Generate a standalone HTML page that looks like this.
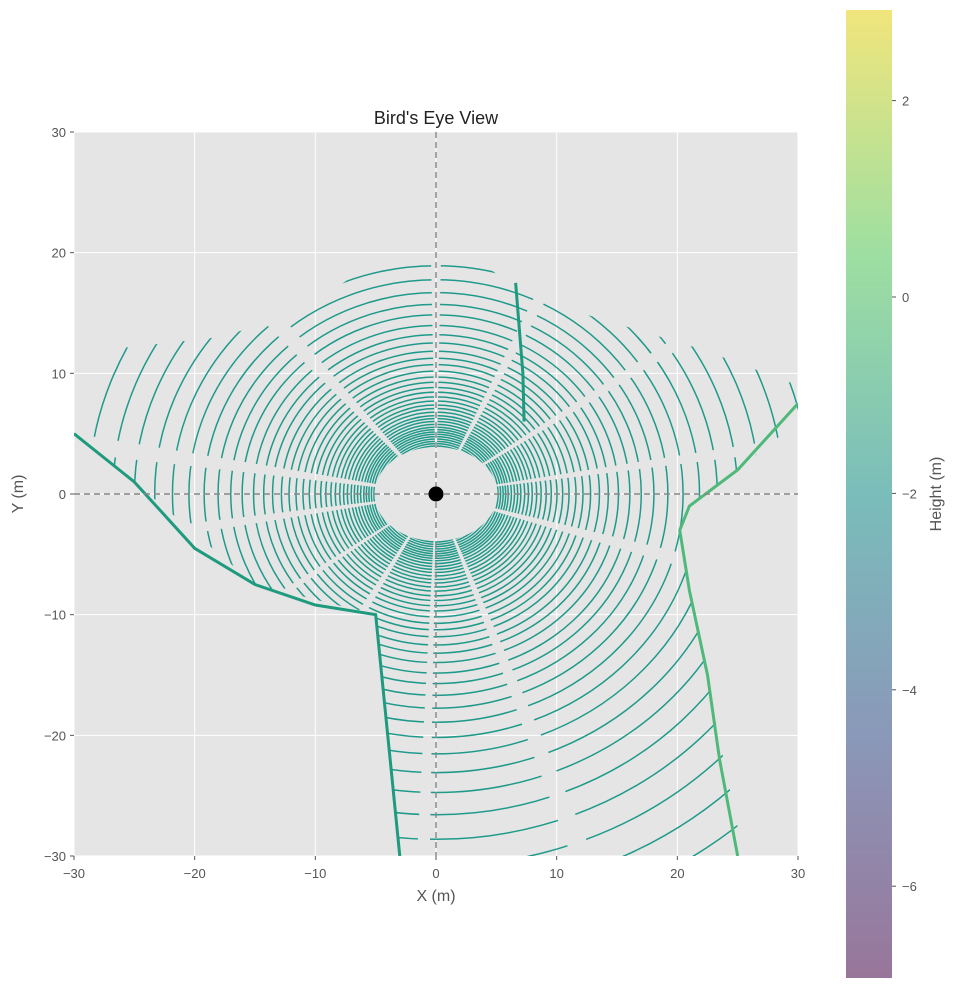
<!DOCTYPE html>
<html><head><meta charset="utf-8"><style>
html,body{margin:0;padding:0;background:#fff;overflow:hidden;}
svg{display:block;}
svg text{font-family:"Liberation Sans",sans-serif;}
</style></head><body>
<svg id="chart" width="956" height="989" viewBox="0 0 956 989" xmlns="http://www.w3.org/2000/svg">
<defs>
<linearGradient id="cbg" x1="0" y1="1" x2="0" y2="0">
<stop offset="0" stop-color="#98769a"/>
<stop offset="0.25" stop-color="#8a98b9"/>
<stop offset="0.5" stop-color="#7abdba"/>
<stop offset="0.75" stop-color="#9edfa1"/>
<stop offset="1" stop-color="#f1e57c"/>
</linearGradient>
<clipPath id="axclip"><rect x="74" y="132" width="724" height="724"/></clipPath>
<mask id="ringmask" maskUnits="userSpaceOnUse" x="0" y="0" width="956" height="989"><rect x="0" y="0" width="956" height="989" fill="#fff"/><g id="maskg"></g></mask>
</defs>
<rect x="74" y="132" width="724" height="724" fill="#e5e5e5"/>
<g id="grid"></g>
<g clip-path="url(#axclip)"><g id="rings" mask="url(#ringmask)"></g><g id="walls"></g></g>
<line x1="436" y1="132" x2="436" y2="856" stroke="#888" stroke-width="1.4" stroke-dasharray="6,4"/>
<line x1="74" y1="494" x2="798" y2="494" stroke="#888" stroke-width="1.4" stroke-dasharray="6,4"/>
<circle cx="436" cy="494" r="7.5" fill="#000"/>
<g id="ticks"></g>
<text x="436" y="124" text-anchor="middle" font-size="18" fill="#222">Bird's Eye View</text>
<text x="436" y="901" text-anchor="middle" font-size="16" fill="#555">X (m)</text>
<text x="23" y="494" text-anchor="middle" font-size="16" fill="#555" transform="rotate(-90 23 494)">Y (m)</text>
<rect x="846" y="10" width="46" height="968" fill="url(#cbg)"/>
<g id="cbticks"></g>
<text x="941" y="494" text-anchor="middle" font-size="16" fill="#555" transform="rotate(-90 941 494)">Height (m)</text>
</svg>
<script>
const xTicks=[-30,-20,-10,0,10,20,30];
const yTicks=[-30,-20,-10,0,10,20,30];
const cbTicks=[2,0,-2,-4,-6];
const ringRadii=[4.1,4.3,4.5,4.7,4.9,5.1,5.3,5.5,5.7,5.95,6.2,6.45,6.7,7.0,7.3,7.6,7.95,8.3,8.7,9.1,9.55,10.0,10.5,11.05,11.6,12.2,12.9,13.6,14.4,15.3,16.2,17.2,18.3,19.5,20.8,22.2,23.8,25.5,27.4,29.5,31.8,34.3,37];
const gapAngles=[90,133,172,188,213,238,268,292,345,8,32,62];
const gapWidths=[1.2,2,1.5,1.2,1,1.5,1,1.5,1.5,1,1.2,1.5];
const wallA=[[-30,5],[-25,1],[-20,-4.5],[-15,-7.5],[-10,-9.2],[-5,-10],[-4,-20],[-3,-30]];
const wallB=[[30,7.5],[25,2],[21,-1],[20.2,-3],[21,-8],[22.5,-15],[23.5,-22],[25,-30]];
const wallC=[[6.6,17.5],[7.2,10],[7.3,6]];
const coverage=[[-30,6],[-27,12],[-18,13],[-11,15],[-7,18],[-2,19.5],[4,19],[6,17.5],[12,15],[22,12],[30,9],[30,6],[25,2],[21,-1],[20.2,-3],[23,-18],[25.5,-30],[-3,-30],[-4,-20],[-5,-10],[-15,-7.5],[-25,1],[-30,5]];
const sx=x=>436+x*12.067, sy=y=>494-y*12.067;
const cv=v=>297-v*98.2;
const NS="http://www.w3.org/2000/svg";
function mk(t,p,a){const e=document.createElementNS(NS,t);for(const k in a)e.setAttribute(k,a[k]);p.appendChild(e);return e;}
const grid=document.getElementById('grid'),ticks=document.getElementById('ticks');
xTicks.forEach(v=>{
 const l=mk('line',grid,{x1:sx(v),x2:sx(v),y1:132,y2:856,stroke:'#fff','stroke-width':1});
 
 
 mk('line',ticks,{x1:sx(v),x2:sx(v),y1:856,y2:860,stroke:'#555'});
 const t=mk('text',ticks,{x:sx(v),y:878,'text-anchor':'middle','font-size':13,fill:'#555'});
 t.textContent=String(v).replace('-','−');
 
 
});
yTicks.forEach(v=>{
 const l=mk('line',grid,{y1:sy(v),y2:sy(v),x1:74,x2:798,stroke:'#fff','stroke-width':1});
 
 
 mk('line',ticks,{y1:sy(v),y2:sy(v),x1:70,x2:74,stroke:'#555'});
 const t=mk('text',ticks,{x:66,y:sy(v)+5,'text-anchor':'end','font-size':13,fill:'#555'});
 t.textContent=String(v).replace('-','−');
 
 
});
const cbt=document.getElementById('cbticks');
cbTicks.forEach(v=>{
 mk('line',cbt,{x1:892,x2:896,y1:cv(v),y2:cv(v),stroke:'#555'});
 const t=mk('text',cbt,{x:902,y:cv(v)+5,'font-size':13,fill:'#555'});
 t.textContent=String(v).replace('-','−');
 
 
});
const defs=document.querySelector('defs');
const cp=mk('clipPath',defs,{id:'cov'});
mk('polygon',cp,{points:coverage.map(p=>sx(p[0])+','+sy(p[1])).join(' ')});
const rings=document.getElementById('rings');
const rg=mk('g',rings,{'clip-path':'url(#cov)'});
ringRadii.forEach(r=>{
 const c=mk('ellipse',rg,{cx:436,cy:494,rx:r*12.067*1.05,ry:r*12.067*0.97,fill:'none',stroke:'#1f9a8a','stroke-width':1.5});
 
 
});
const mg=document.getElementById('maskg');
gapAngles.forEach((a,i)=>{
 const w=gapWidths[i],R=60;
 const a1=(a-w)*Math.PI/180,a2=(a+w)*Math.PI/180;
 mk('polygon',mg,{points:`${sx(0)},${sy(0)} ${sx(R*Math.cos(a1))},${sy(R*Math.sin(a1))} ${sx(R*Math.cos(a2))},${sy(R*Math.sin(a2))}`,fill:'#000'});
});
mk('ellipse',mg,{cx:436,cy:494,rx:5.1*12.067,ry:3.9*12.067,fill:'#000'});
const walls=document.getElementById('walls');
[wallA,wallB,wallC].forEach((w,i)=>{
 const p=mk('polyline',walls,{points:w.map(q=>sx(q[0])+','+sy(q[1])).join(' '),fill:'none',stroke:i==1?'#4fb97a':'#1e9a7e','stroke-width':3});
 
 
});
</script>
</body></html>
